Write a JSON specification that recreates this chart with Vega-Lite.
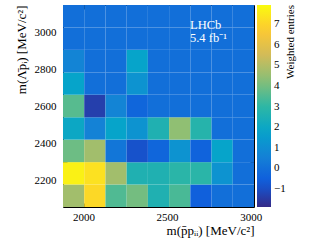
{
  "$schema": "https://vega.github.io/schema/vega-lite/v6.json",
  "width": 191,
  "height": 202,
  "autosize": "none",
  "padding": {"left": 63, "top": 5, "right": 65, "bottom": 40},
  "background": "white",
  "config": {
    "view": {"stroke": "black", "strokeWidth": 1},
    "font": "Liberation Serif",
    "axis": {"grid": false, "domain": false, "tickColor": "black", "labelColor": "black", "titleColor": "black", "labelFont": "Liberation Serif", "titleFont": "Liberation Serif", "titleFontWeight": "normal", "labelFontSize": 11, "titleFontSize": 13}
  },
  "data": {"values": [
    {"xlo":1877,"xhi":2004,"ylo":2054,"yhi":2176,"w":4.7},
    {"xlo":2004,"xhi":2131,"ylo":2054,"yhi":2176,"w":7.1},
    {"xlo":2131,"xhi":2258,"ylo":2054,"yhi":2176,"w":3.5},
    {"xlo":2258,"xhi":2385,"ylo":2054,"yhi":2176,"w":4.0},
    {"xlo":2385,"xhi":2512,"ylo":2054,"yhi":2176,"w":2.6},
    {"xlo":2512,"xhi":2639,"ylo":2054,"yhi":2176,"w":3.4},
    {"xlo":2639,"xhi":2766,"ylo":2054,"yhi":2176,"w":-0.5},
    {"xlo":2766,"xhi":2893,"ylo":2054,"yhi":2176,"w":0},
    {"xlo":2893,"xhi":3020,"ylo":2054,"yhi":2176,"w":0},
    {"xlo":1877,"xhi":2004,"ylo":2176,"yhi":2297,"w":7.7},
    {"xlo":2004,"xhi":2131,"ylo":2176,"yhi":2297,"w":7.3},
    {"xlo":2131,"xhi":2258,"ylo":2176,"yhi":2297,"w":4.7},
    {"xlo":2258,"xhi":2385,"ylo":2176,"yhi":2297,"w":2.6},
    {"xlo":2385,"xhi":2512,"ylo":2176,"yhi":2297,"w":2.6},
    {"xlo":2512,"xhi":2639,"ylo":2176,"yhi":2297,"w":2.9},
    {"xlo":2639,"xhi":2766,"ylo":2176,"yhi":2297,"w":2.9},
    {"xlo":2766,"xhi":2893,"ylo":2176,"yhi":2297,"w":1.2},
    {"xlo":2893,"xhi":3020,"ylo":2176,"yhi":2297,"w":0},
    {"xlo":1877,"xhi":2004,"ylo":2297,"yhi":2419,"w":3.9},
    {"xlo":2004,"xhi":2131,"ylo":2297,"yhi":2419,"w":4.7},
    {"xlo":2131,"xhi":2258,"ylo":2297,"yhi":2419,"w":0.2},
    {"xlo":2258,"xhi":2385,"ylo":2297,"yhi":2419,"w":-0.9},
    {"xlo":2385,"xhi":2512,"ylo":2297,"yhi":2419,"w":-0.3},
    {"xlo":2512,"xhi":2639,"ylo":2297,"yhi":2419,"w":1.2},
    {"xlo":2639,"xhi":2766,"ylo":2297,"yhi":2419,"w":-0.4},
    {"xlo":2766,"xhi":2893,"ylo":2297,"yhi":2419,"w":1.8},
    {"xlo":2893,"xhi":3020,"ylo":2297,"yhi":2419,"w":0},
    {"xlo":1877,"xhi":2004,"ylo":2419,"yhi":2540,"w":2.0},
    {"xlo":2004,"xhi":2131,"ylo":2419,"yhi":2540,"w":0.6},
    {"xlo":2131,"xhi":2258,"ylo":2419,"yhi":2540,"w":1.8},
    {"xlo":2258,"xhi":2385,"ylo":2419,"yhi":2540,"w":1.2},
    {"xlo":2385,"xhi":2512,"ylo":2419,"yhi":2540,"w":2.6},
    {"xlo":2512,"xhi":2639,"ylo":2419,"yhi":2540,"w":4.4},
    {"xlo":2639,"xhi":2766,"ylo":2419,"yhi":2540,"w":2.8},
    {"xlo":2766,"xhi":2893,"ylo":2419,"yhi":2540,"w":0},
    {"xlo":2893,"xhi":3020,"ylo":2419,"yhi":2540,"w":0},
    {"xlo":1877,"xhi":2004,"ylo":2540,"yhi":2662,"w":3.6},
    {"xlo":2004,"xhi":2131,"ylo":2540,"yhi":2662,"w":-1.35},
    {"xlo":2131,"xhi":2258,"ylo":2540,"yhi":2662,"w":0.7},
    {"xlo":2258,"xhi":2385,"ylo":2540,"yhi":2662,"w":-0.3},
    {"xlo":2385,"xhi":2512,"ylo":2540,"yhi":2662,"w":0},
    {"xlo":2512,"xhi":2639,"ylo":2540,"yhi":2662,"w":0},
    {"xlo":2639,"xhi":2766,"ylo":2540,"yhi":2662,"w":0},
    {"xlo":2766,"xhi":2893,"ylo":2540,"yhi":2662,"w":0},
    {"xlo":2893,"xhi":3020,"ylo":2540,"yhi":2662,"w":0},
    {"xlo":1877,"xhi":2004,"ylo":2662,"yhi":2783,"w":1.8},
    {"xlo":2004,"xhi":2131,"ylo":2662,"yhi":2783,"w":0},
    {"xlo":2131,"xhi":2258,"ylo":2662,"yhi":2783,"w":0},
    {"xlo":2258,"xhi":2385,"ylo":2662,"yhi":2783,"w":1.2},
    {"xlo":2385,"xhi":2512,"ylo":2662,"yhi":2783,"w":0},
    {"xlo":2512,"xhi":2639,"ylo":2662,"yhi":2783,"w":0},
    {"xlo":2639,"xhi":2766,"ylo":2662,"yhi":2783,"w":0},
    {"xlo":2766,"xhi":2893,"ylo":2662,"yhi":2783,"w":0},
    {"xlo":2893,"xhi":3020,"ylo":2662,"yhi":2783,"w":0},
    {"xlo":1877,"xhi":2004,"ylo":2783,"yhi":2905,"w":0.7},
    {"xlo":2004,"xhi":2131,"ylo":2783,"yhi":2905,"w":0},
    {"xlo":2131,"xhi":2258,"ylo":2783,"yhi":2905,"w":0},
    {"xlo":2258,"xhi":2385,"ylo":2783,"yhi":2905,"w":1.8},
    {"xlo":2385,"xhi":2512,"ylo":2783,"yhi":2905,"w":0},
    {"xlo":2512,"xhi":2639,"ylo":2783,"yhi":2905,"w":0},
    {"xlo":2639,"xhi":2766,"ylo":2783,"yhi":2905,"w":0},
    {"xlo":2766,"xhi":2893,"ylo":2783,"yhi":2905,"w":0},
    {"xlo":2893,"xhi":3020,"ylo":2783,"yhi":2905,"w":0},
    {"xlo":1877,"xhi":2004,"ylo":2905,"yhi":3026,"w":0},
    {"xlo":2004,"xhi":2131,"ylo":2905,"yhi":3026,"w":0},
    {"xlo":2131,"xhi":2258,"ylo":2905,"yhi":3026,"w":0},
    {"xlo":2258,"xhi":2385,"ylo":2905,"yhi":3026,"w":0},
    {"xlo":2385,"xhi":2512,"ylo":2905,"yhi":3026,"w":0},
    {"xlo":2512,"xhi":2639,"ylo":2905,"yhi":3026,"w":0},
    {"xlo":2639,"xhi":2766,"ylo":2905,"yhi":3026,"w":0},
    {"xlo":2766,"xhi":2893,"ylo":2905,"yhi":3026,"w":0},
    {"xlo":2893,"xhi":3020,"ylo":2905,"yhi":3026,"w":0},
    {"xlo":1877,"xhi":2004,"ylo":3026,"yhi":3148,"w":0},
    {"xlo":2004,"xhi":2131,"ylo":3026,"yhi":3148,"w":0},
    {"xlo":2131,"xhi":2258,"ylo":3026,"yhi":3148,"w":0},
    {"xlo":2258,"xhi":2385,"ylo":3026,"yhi":3148,"w":0},
    {"xlo":2385,"xhi":2512,"ylo":3026,"yhi":3148,"w":0},
    {"xlo":2512,"xhi":2639,"ylo":3026,"yhi":3148,"w":0},
    {"xlo":2639,"xhi":2766,"ylo":3026,"yhi":3148,"w":0},
    {"xlo":2766,"xhi":2893,"ylo":3026,"yhi":3148,"w":0},
    {"xlo":2893,"xhi":3020,"ylo":3026,"yhi":3148,"w":0}
  ]},
  "layer": [
    {
      "mark": {"type": "rect", "strokeWidth": 0},
      "encoding": {
        "x": {"field": "xlo", "type": "quantitative",
          "scale": {"domain": [1877, 3020], "nice": false, "zero": false},
          "axis": {"orient": "bottom", "values": [1900,2000,2100,2200,2300,2400,2500,2600,2700,2800,2900,3000],
            "format": "d",
            "labelExpr": "datum.value % 500 === 0 ? datum.label : ''",
            "tickSize": {"condition": {"test": "datum.value % 500 === 0", "value": -4}, "value": -2.5},
            "labelPadding": 8,
            "title": "m(p̄pᵢᵢ) [MeV/c²]", "titleAnchor": "end", "titleAlign": "right", "titlePadding": 2}},
        "x2": {"field": "xhi"},
        "y": {"field": "ylo", "type": "quantitative",
          "scale": {"domain": [2054, 3148], "nice": false, "zero": false},
          "axis": {"orient": "left", "values": [2100,2150,2200,2250,2300,2350,2400,2450,2500,2550,2600,2650,2700,2750,2800,2850,2900,2950,3000,3050,3100],
            "format": "d",
            "labelExpr": "datum.value % 200 === 0 ? datum.label : ''",
            "tickSize": {"condition": {"test": "datum.value % 200 === 0", "value": -8}, "value": -4},
            "labelPadding": 15,
            "title": "m(Λ̄pᵢ) [MeV/c²]", "titleAnchor": "end", "titlePadding": 6}},
        "y2": {"field": "yhi"},
        "color": {"field": "w", "type": "quantitative",
          "scale": {"type": "linear", "domain": [-1.87, 7.93], "interpolate": "rgb",
            "range": ["#352a87", "#0f5cdd", "#1481d6", "#06a4ca", "#2eb7a4", "#87bf77", "#d1bb59", "#fec832", "#f9fb0e"]},
          "legend": {"orient": "none", "legendX": 194, "legendY": 0, "direction": "vertical",
            "gradientLength": 202, "gradientThickness": 14, "gradientStrokeWidth": 0,
            "values": [-1, 0, 1, 2, 3, 4, 5, 6, 7],
            "labelFont": "Liberation Serif", "labelFontSize": 11, "labelColor": "black", "labelOffset": 3,
            "title": "Weighted entries", "titleFont": "Liberation Serif", "titleFontSize": 11, "titleFontWeight": "normal", "titleColor": "black",
            "titleOrient": "right", "titleAnchor": "end", "titleAlign": "right", "titleBaseline": "top", "titlePadding": -1,
            "encode": {"title": {"update": {"angle": {"value": 270}}}}}}
      }
    },
    {
      "data": {"values": [{"label": "LHCb"}]},
      "mark": {"type": "text", "color": "white", "align": "left", "baseline": "alphabetic", "fontSize": 12.5, "font": "Liberation Serif"},
      "encoding": {
        "x": {"datum": 2637, "type": "quantitative",
          "axis": {"orient": "top", "values": [1900,2000,2100,2200,2300,2400,2500,2600,2700,2800,2900,3000],
            "labels": false, "title": null,
            "tickSize": {"condition": {"test": "datum.value % 500 === 0", "value": -4}, "value": -2.5}}},
        "y": {"datum": 3016, "type": "quantitative",
          "axis": {"orient": "right", "values": [2100,2150,2200,2250,2300,2350,2400,2450,2500,2550,2600,2650,2700,2750,2800,2850,2900,2950,3000,3050,3100],
            "labels": false, "title": null,
            "tickSize": {"condition": {"test": "datum.value % 200 === 0", "value": -8}, "value": -4}}},
        "text": {"field": "label"}
      }
    },
    {
      "data": {"values": [{"label": "5.4 fb⁻¹"}]},
      "mark": {"type": "text", "color": "white", "align": "left", "baseline": "alphabetic", "fontSize": 12.5, "font": "Liberation Serif"},
      "encoding": {
        "x": {"datum": 2637, "type": "quantitative", "axis": null},
        "y": {"datum": 2948, "type": "quantitative", "axis": null},
        "text": {"field": "label"}
      }
    }
  ],
  "resolve": {"axis": {"x": "independent", "y": "independent"}}
}
